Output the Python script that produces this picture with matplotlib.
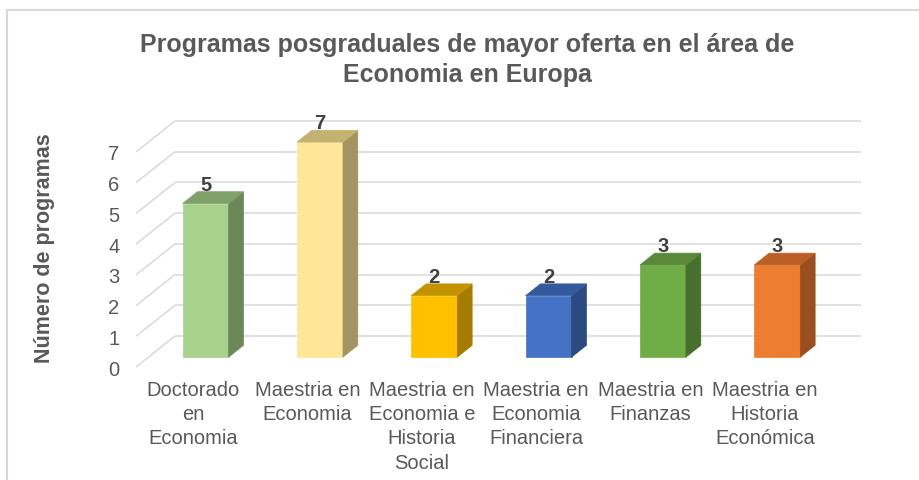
import matplotlib
matplotlib.use("Agg")
import matplotlib.pyplot as plt
from matplotlib.patches import Polygon, Rectangle

# ---------------- data ----------------
categories = [
    "Doctorado\nen\nEconomia",
    "Maestria en\nEconomia",
    "Maestria en\nEconomia e\nHistoria\nSocial",
    "Maestria en\nEconomia\nFinanciera",
    "Maestria en\nFinanzas",
    "Maestria en\nHistoria\nEconómica",
]
values = [5, 7, 2, 2, 3, 3]
y_ticks = [0, 1, 2, 3, 4, 5, 6, 7]
title = "Programas posgraduales de mayor oferta en el área de\nEconomia en Europa"
y_label = "Número de programas"

# ---------------- styles ----------------
front_colors = ["#A9D18E", "#FFE699", "#FFC000", "#4472C4", "#70AD47", "#ED7D31"]
side_colors = ["#6C8758", "#A39462", "#A67C00", "#2B4A7F", "#486F2D", "#9A4F1F"]
top_colors = ["#7FA069", "#C4B271", "#C29400", "#345A9E", "#5A8A39", "#BC5F26"]
grid_color = "#D9D9D9"
text_gray = "#595959"
value_color = "#404040"

plt.rcParams["font.family"] = ["Liberation Sans", "DejaVu Sans"]

W, H = 919, 481
fig = plt.figure(figsize=(W / 100, H / 100), dpi=100)

# layout (pixels)
x_left_px, x_right_px = 136, 822
y0_px, y7_px = 368, 153
top_px = 105
unit_px = (y0_px - y7_px) / 7
cat_px = (x_right_px - x_left_px) / len(categories)

ax = fig.add_axes([x_left_px / W, 1 - y0_px / H,
                   (x_right_px - x_left_px) / W, (y0_px - top_px) / H])
ax.set_xlim(-0.5, len(categories) - 0.5)
ax.set_ylim(0, (y0_px - top_px) / unit_px)
ax.patch.set_visible(False)
for s in ax.spines.values():
    s.set_visible(False)

# depth vector (full wall depth) in data units
sx = 39 / cat_px
sy = 31 / unit_px
d0, d1 = 0.32, 0.70          # bar depth span
bar_w = 46 / cat_px

# back wall + left wall gridlines
n = len(categories)
for k in y_ticks:
    ax.plot([-0.5 + sx, n - 0.5 + sx], [k + sy, k + sy], color=grid_color,
            lw=1.1, zorder=1, clip_on=False, solid_capstyle="butt")
    ax.plot([-0.5, -0.5 + sx], [k, k + sy], color=grid_color,
            lw=1.1, zorder=1, clip_on=False, solid_capstyle="butt")

# 3D bars
dd = d1 - d0
for i, v in enumerate(values):
    x0 = i - bar_w / 2 + d0 * sx
    x1 = x0 + bar_w
    yb = d0 * sy
    yt = v + d0 * sy
    ax.add_patch(Rectangle((x0, yb), bar_w, v, facecolor=front_colors[i],
                           edgecolor=front_colors[i], lw=0.5, zorder=3, clip_on=False))
    ax.add_patch(Polygon([(x1, yb), (x1 + dd * sx, yb + dd * sy),
                          (x1 + dd * sx, yt + dd * sy), (x1, yt)],
                         closed=True, facecolor=side_colors[i],
                         edgecolor=side_colors[i], lw=0.5, zorder=3, clip_on=False))
    ax.add_patch(Polygon([(x0, yt), (x1, yt), (x1 + dd * sx, yt + dd * sy),
                          (x0 + dd * sx, yt + dd * sy)],
                         closed=True, facecolor=top_colors[i],
                         edgecolor=top_colors[i], lw=0.5, zorder=3, clip_on=False))
    ax.annotate(str(v), xy=(i + d0 * sx, v + d1 * sy), xytext=(0, 1.5),
                textcoords="offset points", ha="center", va="baseline",
                fontsize=14.5, fontweight="bold", color=value_color,
                zorder=5, annotation_clip=False)

# ticks
ax.set_yticks(y_ticks)
ax.set_yticklabels([str(t) for t in y_ticks])
ax.tick_params(axis="y", length=0, pad=12, labelsize=14.5, labelcolor=text_gray)
ax.set_xticks(range(n))
ax.set_xticklabels(categories, linespacing=1.36)
ax.tick_params(axis="x", length=0, pad=9, labelsize=14.5, labelcolor=text_gray)

# y label
fig.text(45 / W, 1 - 248 / H, y_label, rotation=90, ha="center", va="center",
         fontsize=15.5, fontweight="bold", color=text_gray)

# title
fig.text(467 / W, 1 - 60 / H, title, ha="center", va="center",
         fontsize=18, fontweight="bold", color=text_gray, linespacing=1.3)

# chart border
fig.add_artist(Rectangle((7 / W, -0.1), 1.2, 1 - 11 / H + 0.1,
                         transform=fig.transFigure, fill=False,
                         edgecolor=grid_color, lw=1.5))

fig.savefig("out.png", dpi=100, facecolor="white")
